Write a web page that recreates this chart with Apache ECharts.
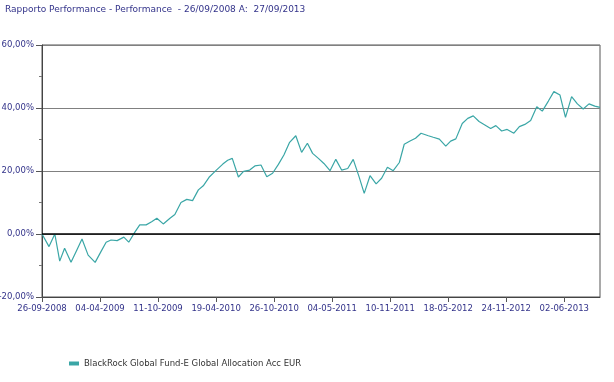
<!DOCTYPE html>
<html>
<head>
<meta charset="utf-8">
<script src="https://cdn.jsdelivr.net/npm/echarts@6/dist/echarts.min.js"></script>
<style>
html,body{margin:0;padding:0;background:#fff;}
#c{width:614px;height:382px;}
</style>
</head>
<body>
<div id="c"></div>
<script>
const titleText = 'Rapporto Performance - Performance  - 26/09/2008 A:  27/09/2013';
const seriesName = 'BlackRock Global Fund-E Global Allocation Acc EUR';
const startDate = Date.UTC(2008, 8, 26);
const totalDays = 1827;
const yTicks = [-20, 0, 20, 40, 60];
// days since 26-09-2008
const days = [0,23,42,58,74,95,113,131,151,174,193,210,226,246,268,284,304,320,341,359,376,397,419,435,455,474,493,512,528,547,570,592,608,623,643,660,680,697,717,736,755,774,792,810,831,850,869,886,905,923,943,962,981,1001,1019,1038,1055,1074,1094,1112,1131,1150,1170,1186,1205,1223,1241,1265,1281,1301,1322,1338,1355,1376,1394,1412,1431,1450,1469,1486,1505,1523,1545,1563,1581,1600,1620,1638,1658,1676,1696,1714,1734,1753,1772,1791,1810,1827];
// performance, %
const perf = [0,-4.0,0,-8.6,-4.5,-9.0,-5.3,-1.6,-6.7,-9.0,-5.6,-2.6,-1.9,-2.1,-1.0,-2.6,0.6,2.9,2.9,3.9,5.0,3.2,5.0,6.2,10.0,11.0,10.6,14.0,15.3,18.0,20.2,22.2,23.4,24.0,18.1,19.9,20.3,21.6,21.9,18.2,19.3,22.1,25.1,29.0,31.2,25.9,28.8,25.6,24.0,22.4,20.1,23.7,20.3,20.8,23.7,18.2,12.9,18.5,15.9,17.7,21.2,20.1,22.7,28.5,29.5,30.4,32.0,31.2,30.7,30.1,27.9,29.5,30.2,35.1,36.7,37.5,35.7,34.6,33.5,34.4,32.7,33.2,32.0,34.1,34.8,36.0,40.4,39.0,42.2,45.2,44.1,37.0,43.6,41.3,39.7,41.3,40.6,40.2];

function fmtDate(d) {
  const dt = new Date(startDate + d * 86400000);
  const p = n => (n < 10 ? '0' : '') + n;
  return p(dt.getUTCDate()) + '-' + p(dt.getUTCMonth() + 1) + '-' + dt.getUTCFullYear();
}
const data = days.map((d, i) => [d, perf[i]]);
const navy = '#33338a';
const chart = echarts.init(document.getElementById('c'), null, {renderer: 'canvas'});
chart.setOption({
  animation: false,
  backgroundColor: '#fff',
  title: {
    text: titleText, left: 0, top: 0,
    textStyle: {fontFamily: 'DejaVu Sans', fontSize: 9, fontWeight: 'normal', color: navy}
  },
  legend: {
    left: 64, top: 354, itemWidth: 10, itemHeight: 4, itemGap: 4,
    icon: 'rect',
    textStyle: {fontFamily: 'DejaVu Sans', fontSize: 8.5, color: '#333'},
    data: [seriesName]
  },
  grid: {left: 42, right: 14, top: 45, bottom: 85, containLabel: false, outerBoundsMode: 'none',
    show: true, borderColor: '#555', borderWidth: 1},
  xAxis: {
    type: 'value', min: 0, max: totalDays, interval: 190,
    axisLine: {show: true, onZero: false, lineStyle: {color: '#444'}},
    axisTick: {show: true, inside: false, length: 5, lineStyle: {color: '#555'}},
    splitLine: {show: false},
    axisLabel: {showMaxLabel: false, formatter: v => fmtDate(v), color: navy, fontFamily: 'DejaVu Sans', fontSize: 8.5, margin: 7}
  },
  yAxis: {
    type: 'value', min: yTicks[0], max: yTicks[yTicks.length - 1], interval: 20,
    axisLine: {show: true, lineStyle: {color: '#444'}},
    axisTick: {show: true, inside: false, length: 6, lineStyle: {color: '#555'}},
    minorTick: {show: true, splitNumber: 2, length: 3, lineStyle: {color: '#777'}},
    splitLine: {show: true, lineStyle: {color: '#808080', width: 1}},
    axisLabel: {formatter: v => v.toFixed(2).replace('.', ',') + '%', color: navy, fontFamily: 'DejaVu Sans', fontSize: 8.5, margin: 8}
  },
  series: [{
    name: seriesName, type: 'line', data: data, symbol: 'none',
    lineStyle: {color: '#3aa6a6', width: 1.2}, itemStyle: {color: '#3aa6a6'},
    markLine: {silent: true, symbol: 'none', label: {show: false},
      lineStyle: {color: '#000', width: 1.5, type: 'solid'}, data: [{yAxis: 0}]}
  }]
});
</script>
</body>
</html>
